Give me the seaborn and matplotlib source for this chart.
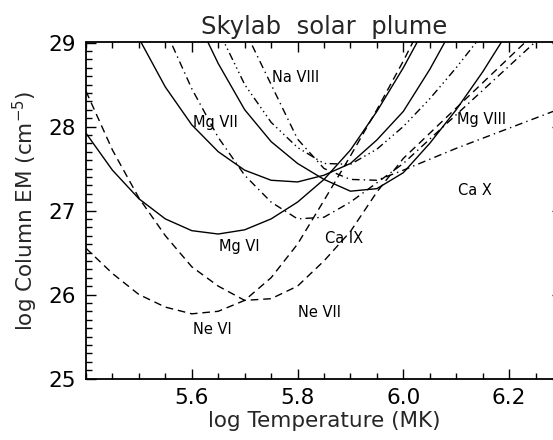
import numpy as np
import pandas as pd
import matplotlib
matplotlib.use("Agg")
import matplotlib.pyplot as plt
import seaborn as sns
from matplotlib.ticker import MultipleLocator, FixedLocator

# ---- data ----
mg6_x = [5.40, 5.45, 5.50, 5.55, 5.60, 5.65, 5.70, 5.75, 5.80, 5.85, 5.90, 5.95, 6.00, 6.05]
mg6_y = [27.92, 27.48, 27.14, 26.90, 26.76, 26.72, 26.77, 26.90, 27.10, 27.37, 27.72, 28.18, 28.70, 29.28]

mg7_x = [5.45, 5.50, 5.55, 5.60, 5.65, 5.70, 5.75, 5.80, 5.85, 5.90, 5.95, 6.00, 6.05, 6.10]
mg7_y = [29.75, 29.05, 28.47, 28.02, 27.70, 27.48, 27.36, 27.34, 27.42, 27.56, 27.84, 28.18, 28.68, 29.25]

mg8_x = [5.60, 5.65, 5.70, 5.75, 5.80, 5.85, 5.90, 5.95, 6.00, 6.05, 6.10, 6.15, 6.20]
mg8_y = [29.40, 28.75, 28.20, 27.82, 27.56, 27.37, 27.23, 27.26, 27.45, 27.80, 28.20, 28.65, 29.15]

ne6_x = [5.40, 5.45, 5.50, 5.55, 5.60, 5.65, 5.70, 5.75, 5.80, 5.85, 5.90, 5.95, 6.00, 6.05]
ne6_y = [26.55, 26.25, 26.00, 25.85, 25.77, 25.80, 25.93, 26.20, 26.60, 27.12, 27.65, 28.20, 28.78, 29.40]

ne7_x = [5.40, 5.45, 5.50, 5.55, 5.60, 5.65, 5.70, 5.75, 5.80, 5.85, 5.90, 5.95, 6.00, 6.05, 6.10, 6.15, 6.20, 6.25]
ne7_y = [28.42, 27.72, 27.15, 26.70, 26.33, 26.10, 25.93, 25.95, 26.10, 26.40, 26.75, 27.22, 27.62, 27.92, 28.22, 28.52, 28.82, 29.12]

ca9_x = [5.55, 5.60, 5.65, 5.70, 5.75, 5.80, 5.85, 5.90, 5.95, 6.00, 6.05, 6.10, 6.15, 6.20, 6.25, 6.30]
ca9_y = [29.15, 28.45, 27.87, 27.42, 27.10, 26.90, 26.92, 27.10, 27.33, 27.56, 27.85, 28.14, 28.43, 28.72, 29.01, 29.30]

ca10_x = [5.70, 5.75, 5.80, 5.85, 5.90, 5.95, 6.00, 6.05, 6.10, 6.15, 6.20, 6.25, 6.30]
ca10_y = [29.15, 28.50, 27.85, 27.50, 27.37, 27.36, 27.48, 27.61, 27.74, 27.86, 27.98, 28.10, 28.22]

na8_x = [5.65, 5.70, 5.75, 5.80, 5.85, 5.90, 5.95, 6.00, 6.05, 6.10, 6.15]
na8_y = [29.15, 28.50, 28.05, 27.75, 27.56, 27.55, 27.73, 28.00, 28.33, 28.70, 29.10]

ion_names = ["Mg VI", "Mg VII", "Mg VIII", "Ne VI", "Ne VII", "Ca IX", "Ca X", "Na VIII"]
ion_x = [mg6_x, mg7_x, mg8_x, ne6_x, ne7_x, ca9_x, ca10_x, na8_x]
ion_y = [mg6_y, mg7_y, mg8_y, ne6_y, ne7_y, ca9_y, ca10_y, na8_y]

label_text = ["Na VIII", "Mg VII", "Mg VIII", "Ca X", "Mg VI", "Ca IX", "Ne VII", "Ne VI"]
label_x = [5.796, 5.644, 6.147, 6.135, 5.690, 5.888, 5.842, 5.638]
label_y = [28.58, 28.05, 28.08, 27.24, 26.57, 26.67, 25.78, 25.58]

xtick_vals = [5.6, 5.8, 6.0, 6.2]
ytick_vals = [25, 26, 27, 28, 29]

# ---- build long table ----
frames = []
for name, xs, ys in zip(ion_names, ion_x, ion_y):
    frames.append(pd.DataFrame({"logT": xs, "EM": ys, "ion": name}))
df = pd.concat(frames, ignore_index=True)

dash_map = {
    "Mg VI": "", "Mg VII": "", "Mg VIII": "",
    "Ne VI": (5.5, 3.5), "Ne VII": (5.5, 3.5),
    "Ca IX": (5.5, 3, 1, 3), "Ca X": (5.5, 3, 1, 3),
    "Na VIII": (5.5, 2.5, 1, 2.5, 1, 2.5, 1, 2.5),
}
palette = {n: "black" for n in ion_names}

sns.set_style("ticks")
plt.rcParams["font.family"] = ["DejaVu Sans"]

fig = plt.figure(figsize=(5.53, 4.40), dpi=100)
ax = fig.add_axes([86 / 553, (440 - 378.5) / 440, (562 - 86) / 553, 336 / 440])

sns.lineplot(data=df, x="logT", y="EM", hue="ion", style="ion", palette=palette,
             dashes=dash_map, linewidth=1.0, legend=False, ax=ax, sort=False,
             estimator=None)

for t, lx, ly in zip(label_text, label_x, label_y):
    ax.text(lx, ly, t, ha="center", va="center", fontsize=10.5, color="black")

ax.set_xlim(5.4, 6.3)
ax.set_ylim(25, 29)
ax.xaxis.set_major_locator(FixedLocator(xtick_vals))
ax.xaxis.set_minor_locator(MultipleLocator(0.05))
ax.yaxis.set_major_locator(FixedLocator(ytick_vals))
ax.yaxis.set_minor_locator(MultipleLocator(0.1))
ax.set_xticklabels([f"{v:.1f}" for v in xtick_vals])
ax.set_yticklabels([str(v) for v in ytick_vals])
ax.tick_params(which="both", direction="in", top=True, right=True, width=1.0, colors="black")
ax.tick_params(which="major", length=7, labelsize=15.5, pad=7)
ax.tick_params(which="minor", length=4)
for s in ax.spines.values():
    s.set_linewidth(1.3)
    s.set_color("black")

ax.set_xlabel("log Temperature (MK)", fontsize=15.5, labelpad=2)
ax.set_ylabel("log Column EM (cm$^{-5}$)", fontsize=15.5, labelpad=6)
ax.set_title("Skylab  solar  plume", fontsize=17.5, pad=6)

fig.savefig("out.png", dpi=100)
